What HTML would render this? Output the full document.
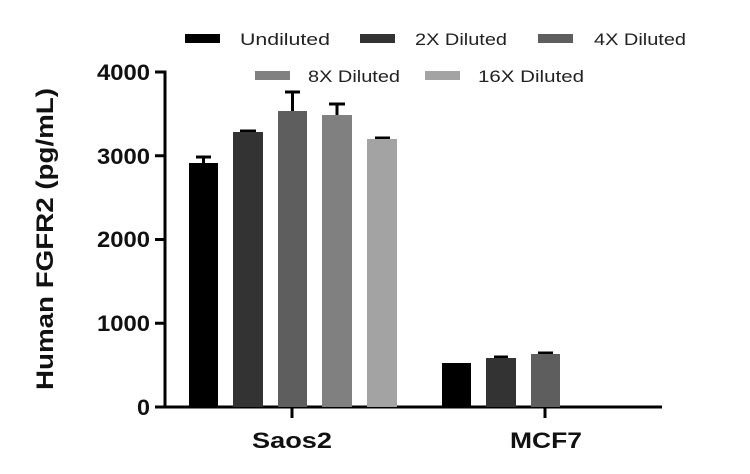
<!DOCTYPE html>
<html><head><style>body{margin:0;background:#fff}svg{display:block}</style></head><body>
<svg width="750" height="474" xmlns="http://www.w3.org/2000/svg" font-family="Liberation Sans, sans-serif">
<g font-size="17" fill="#222" lengthAdjust="spacingAndGlyphs">
<rect x="185" y="34" width="35" height="9" fill="#000"/><text x="240" y="45" textLength="90" lengthAdjust="spacingAndGlyphs">Undiluted</text>
<rect x="360" y="34" width="35" height="9" fill="#333"/><text x="415" y="45" textLength="92" lengthAdjust="spacingAndGlyphs">2X Diluted</text>
<rect x="538" y="34" width="35" height="9" fill="#5e5e5e"/><text x="594" y="45" textLength="92" lengthAdjust="spacingAndGlyphs">4X Diluted</text>
<rect x="255" y="71" width="35" height="9" fill="#808080"/><text x="308" y="82" textLength="92" lengthAdjust="spacingAndGlyphs">8X Diluted</text>
<rect x="425" y="71" width="35" height="9" fill="#a3a3a3"/><text x="478" y="82" textLength="106" lengthAdjust="spacingAndGlyphs">16X Diluted</text>
</g>
<g stroke="#000" stroke-width="3" fill="none">
<line x1="165" y1="70.5" x2="165" y2="408"/>
<line x1="163.5" y1="407" x2="662" y2="407"/>
<line x1="155" y1="72" x2="165" y2="72"/>
<line x1="155" y1="155.75" x2="165" y2="155.75"/>
<line x1="155" y1="239.5" x2="165" y2="239.5"/>
<line x1="155" y1="323.25" x2="165" y2="323.25"/>
<line x1="155" y1="407" x2="165" y2="407"/>
<line x1="292" y1="407" x2="292" y2="418"/>
<line x1="545" y1="407" x2="545" y2="418"/>
</g>
<g stroke="#000" stroke-width="3">
<line x1="203.5" y1="163" x2="203.5" y2="157"/><line x1="196" y1="157" x2="211" y2="157"/>
<line x1="248" y1="132" x2="248" y2="131"/><line x1="240" y1="131" x2="256" y2="131"/>
<line x1="292.5" y1="111" x2="292.5" y2="92"/><line x1="285" y1="92" x2="300" y2="92"/>
<line x1="337" y1="115" x2="337" y2="104"/><line x1="329" y1="104" x2="345" y2="104"/>
<line x1="375" y1="138" x2="390" y2="138"/>
<line x1="494" y1="357" x2="508" y2="357"/>
<line x1="538" y1="353" x2="553" y2="353"/>
</g>
<rect x="189" y="163" width="29" height="244" fill="#000"/>
<rect x="233" y="132" width="30" height="275" fill="#333"/>
<rect x="278" y="111" width="29" height="296" fill="#5e5e5e"/>
<rect x="322" y="115" width="30" height="292" fill="#808080"/>
<rect x="367" y="139" width="30" height="268" fill="#a3a3a3"/>
<rect x="442" y="363" width="29" height="44" fill="#000"/>
<rect x="486" y="358" width="30" height="49" fill="#333"/>
<rect x="531" y="354" width="29" height="53" fill="#5e5e5e"/>
<g font-size="22" font-weight="bold" fill="#111">
<text x="97" y="80" textLength="53" lengthAdjust="spacingAndGlyphs">4000</text>
<text x="97" y="164" textLength="53" lengthAdjust="spacingAndGlyphs">3000</text>
<text x="97" y="247" textLength="53" lengthAdjust="spacingAndGlyphs">2000</text>
<text x="97" y="331" textLength="53" lengthAdjust="spacingAndGlyphs">1000</text>
<text x="137" y="415" textLength="13" lengthAdjust="spacingAndGlyphs">0</text>
</g>
<g font-size="22" font-weight="bold" fill="#111">
<text x="252" y="448" textLength="80" lengthAdjust="spacingAndGlyphs">Saos2</text>
<text x="510" y="448" textLength="72" lengthAdjust="spacingAndGlyphs">MCF7</text>
<text transform="translate(53,390) rotate(-90)" font-size="24" textLength="302" lengthAdjust="spacingAndGlyphs">Human FGFR2 (pg/mL)</text>
</g>
</svg>
</body></html>
